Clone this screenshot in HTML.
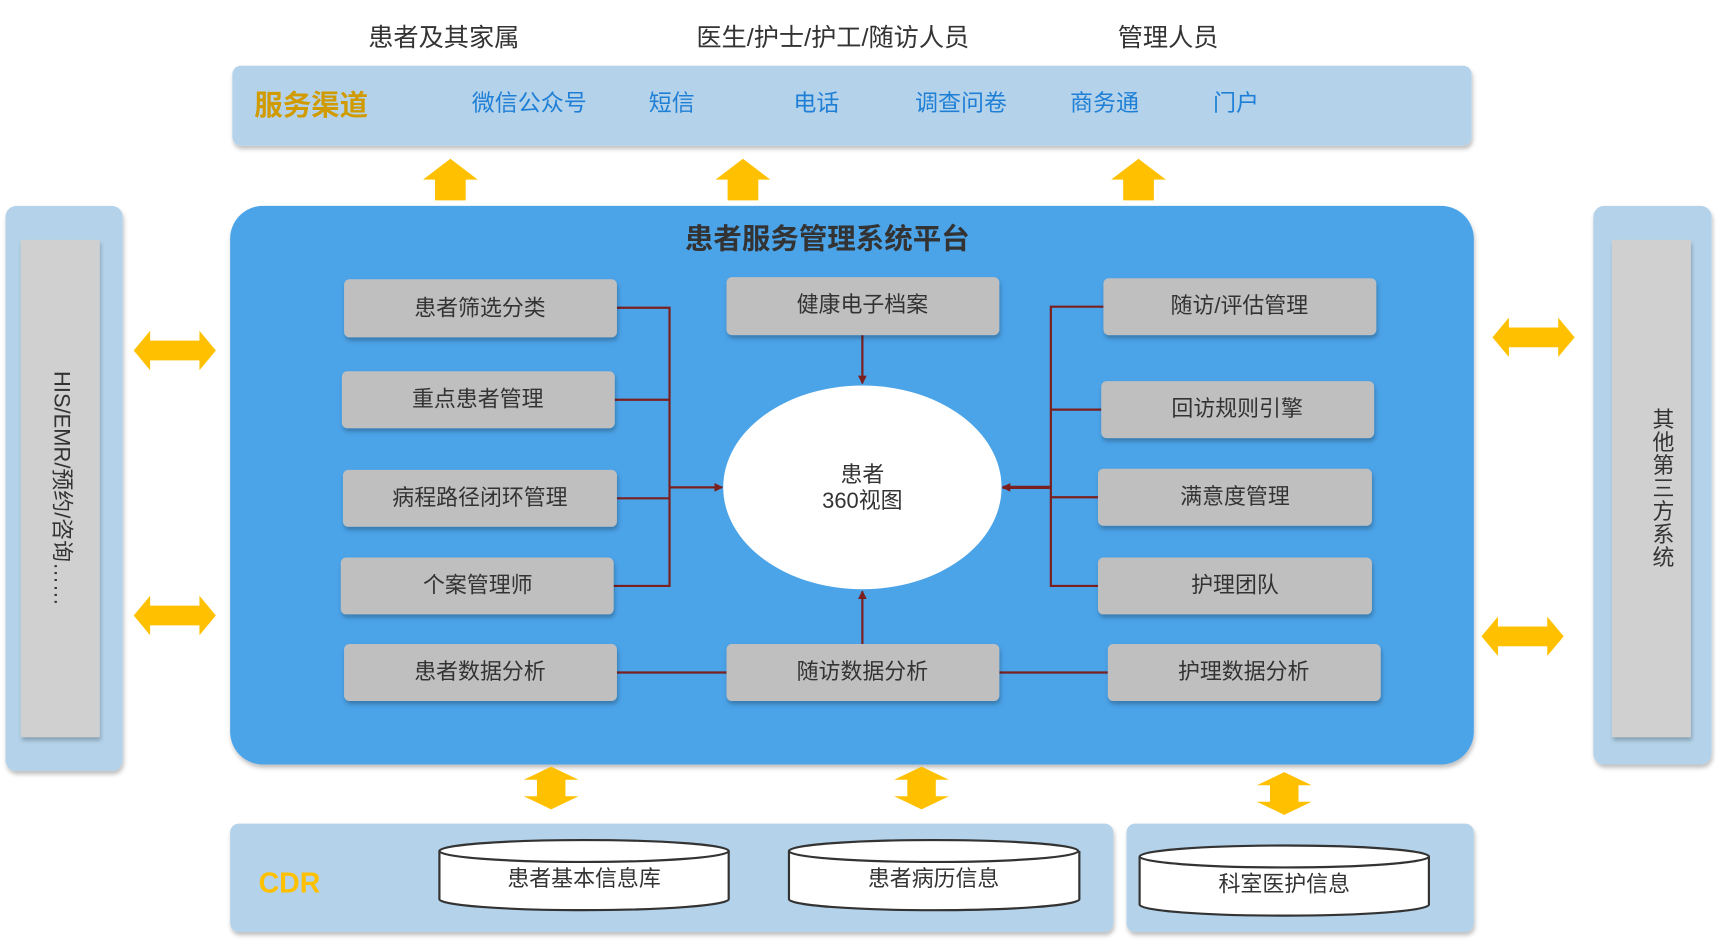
<!DOCTYPE html>
<html><head><meta charset="utf-8"><style>
html,body{margin:0;padding:0;background:#fff;width:1716px;height:943px;overflow:hidden}
svg{display:block}
text{font-family:"Liberation Sans","Noto Sans CJK SC",sans-serif}
</style></head><body>
<svg width="1716" height="943" viewBox="0 0 1566 861" preserveAspectRatio="none" xmlns="http://www.w3.org/2000/svg">
<defs>
<filter id="sh" x="-5%" y="-5%" width="110%" height="115%"><feDropShadow dx="1" dy="3" stdDeviation="2" flood-color="#000" flood-opacity="0.25"/></filter>
<marker id="ar" markerWidth="8" markerHeight="8" refX="7" refY="4" orient="auto" markerUnits="userSpaceOnUse"><path d="M0,0 L8,4 L0,8 Z" fill="#7b1f1f"/></marker>
</defs>
<g font-size="23" fill="#333" text-anchor="middle">
<text x="405" y="42">患者及其家属</text>
<text x="760" y="42">医生/护士/护工/随访人员</text>
<text x="1066" y="42">管理人员</text>
</g>
<rect x="212" y="60" width="1131" height="73" rx="8" fill="#b4d3ea" filter="url(#sh)"/>
<text x="232" y="105" font-size="26" font-weight="bold" fill="#d19b00">服务渠道</text>
<g font-size="21" fill="#1f7fd6" text-anchor="middle">
<text x="483" y="101">微信公众号</text><text x="613" y="101">短信</text><text x="745" y="101">电话</text>
<text x="877" y="101">调查问卷</text><text x="1008" y="101">商务通</text><text x="1128" y="101">门户</text>
</g>
<g fill="#ffc000">
<polygon points="411,145 436,164 425,164 425,183 397,183 397,164 386,164"/>
<polygon points="678,145 703,164 692,164 692,183 664,183 664,164 653,164"/>
<polygon points="1039,145 1064,164 1053,164 1053,183 1025,183 1025,164 1014,164"/>
</g>
<rect x="5" y="188" width="107" height="516" rx="10" fill="#b4d3ea" filter="url(#sh)"/>
<rect x="19" y="219" width="72" height="454" fill="#d0d0d0" filter="url(#sh)"/>
<text transform="translate(55,446) rotate(90)" font-size="20" fill="#333" text-anchor="middle" dominant-baseline="middle">HIS/EMR/预约/咨询……</text>
<rect x="1454" y="188" width="108" height="510" rx="10" fill="#b4d3ea" filter="url(#sh)"/>
<rect x="1471" y="219" width="72" height="454" fill="#d0d0d0" filter="url(#sh)"/>
<g font-size="20" fill="#333" text-anchor="middle">
<text x="1518" y="390">其</text><text x="1518" y="411">他</text><text x="1518" y="432">第</text><text x="1518" y="453">三</text><text x="1518" y="474">方</text><text x="1518" y="495">系</text><text x="1518" y="516">统</text>
</g>
<g fill="#ffc000">
<polygon points="122,320 137,302 137,311 182,311 182,302 197,320 182,338 182,329 137,329 137,338"/>
<polygon points="122,562 137,544 137,553 182,553 182,544 197,562 182,580 182,571 137,571 137,580"/>
<polygon points="1362,308 1377,290 1377,299 1422,299 1422,290 1437,308 1422,326 1422,317 1377,317 1377,326"/>
<polygon points="1352,581 1367,563 1367,572 1412,572 1412,563 1427,581 1412,599 1412,590 1367,590 1367,599"/>
</g>
<rect x="210" y="188" width="1135" height="510" rx="30" fill="#4ba3e8" filter="url(#sh)"/>
<text x="755" y="227" font-size="26" font-weight="bold" fill="#333" text-anchor="middle">患者服务管理系统平台</text>
<g stroke="#7b1f1f" stroke-width="2" fill="none">
<polyline points="563,281 611,281 611,535 560,535"/>
<line x1="561" y1="365" x2="611" y2="365"/><line x1="563" y1="455" x2="611" y2="455"/>
<line x1="611" y1="445" x2="659" y2="445" marker-end="url(#ar)"/>
<polyline points="1007,280 959,280 959,535 1002,535"/>
<line x1="1005" y1="374" x2="959" y2="374"/><line x1="1002" y1="454" x2="959" y2="454"/>
<line x1="959" y1="445" x2="915" y2="445" marker-end="url(#ar)" stroke-width="3"/>
<line x1="787" y1="306" x2="787" y2="350" marker-end="url(#ar)"/>
<line x1="787" y1="588" x2="787" y2="540" marker-end="url(#ar)"/>
<line x1="563" y1="614" x2="663" y2="614"/><line x1="912" y1="614" x2="1011" y2="614"/>
</g>
<g fill="#bfbfbf" filter="url(#sh)">
<rect x="314" y="255" width="249" height="53" rx="5"/>
<rect x="312" y="339" width="249" height="52" rx="5"/>
<rect x="313" y="429" width="250" height="52" rx="5"/>
<rect x="311" y="509" width="249" height="52" rx="5"/>
<rect x="314" y="588" width="249" height="52" rx="5"/>
<rect x="663" y="253" width="249" height="53" rx="5"/>
<rect x="663" y="588" width="249" height="52" rx="5"/>
<rect x="1007" y="254" width="249" height="52" rx="5"/>
<rect x="1005" y="348" width="249" height="52" rx="5"/>
<rect x="1002" y="428" width="250" height="52" rx="5"/>
<rect x="1002" y="509" width="250" height="52" rx="5"/>
<rect x="1011" y="588" width="249" height="52" rx="5"/>
</g>
<g font-size="20" fill="#333" text-anchor="middle">
<text x="438" y="288">患者筛选分类</text>
<text x="436" y="371">重点患者管理</text>
<text x="438" y="461">病程路径闭环管理</text>
<text x="436" y="541">个案管理师</text>
<text x="438" y="620">患者数据分析</text>
<text x="787" y="285">健康电子档案</text>
<text x="787" y="620">随访数据分析</text>
<text x="1131" y="286">随访/评估管理</text>
<text x="1129" y="380">回访规则引擎</text>
<text x="1127" y="460">满意度管理</text>
<text x="1127" y="541">护理团队</text>
<text x="1135" y="620">护理数据分析</text>
</g>
<ellipse cx="787" cy="445" rx="127" ry="93" fill="#fff"/>
<text x="787" y="440" font-size="20" fill="#333" text-anchor="middle">患者</text>
<text x="787" y="464" font-size="20" fill="#333" text-anchor="middle">360视图</text>
<g fill="#ffc000">
<polygon points="503,700 528,712 516,712 516,727 528,727 503,739 478,727 490,727 490,712 478,712"/>
<polygon points="841,700 866,712 854,712 854,727 866,727 841,739 816,727 828,727 828,712 816,712"/>
<polygon points="1172,705 1197,717 1185,717 1185,732 1197,732 1172,744 1147,732 1159,732 1159,717 1147,717"/>
</g>
<rect x="210" y="752" width="806" height="99" rx="8" fill="#b4d3ea" filter="url(#sh)"/>
<rect x="1028" y="752" width="317" height="99" rx="8" fill="#b4d3ea" filter="url(#sh)"/>
<text x="236" y="815" font-size="26" font-weight="bold" fill="#ffc000">CDR</text>
<g stroke="#333" stroke-width="2" fill="#fff">
<path d="M401,777 L401,821 A132,10 0 0 0 665,821 L665,777"/><ellipse cx="533" cy="777" rx="132" ry="10"/>
<path d="M720,777 L720,821 A132,10 0 0 0 985,821 L985,777"/><ellipse cx="852" cy="777" rx="132" ry="10"/>
<path d="M1040,782 L1040,826 A132,10 0 0 0 1304,826 L1304,782"/><ellipse cx="1172" cy="782" rx="132" ry="10"/>
</g>
<g font-size="20" fill="#333" text-anchor="middle">
<text x="533" y="809">患者基本信息库</text>
<text x="852" y="809">患者病历信息</text>
<text x="1172" y="814">科室医护信息</text>
</g>
</svg>
</body></html>
